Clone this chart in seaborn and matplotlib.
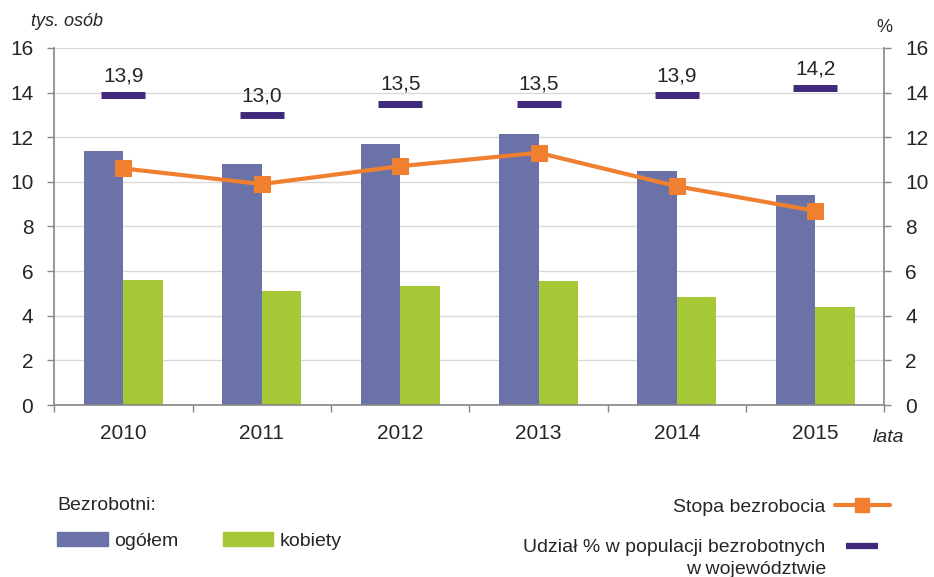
import matplotlib.pyplot as plt
import numpy as np
import pandas as pd
import seaborn as sns
from matplotlib.lines import Line2D
from matplotlib.patches import Patch

# dane
years = ["2010", "2011", "2012", "2013", "2014", "2015"]
ogolem = [11.4, 10.8, 11.7, 12.15, 10.5, 9.4]
kobiety = [5.6, 5.1, 5.35, 5.55, 4.85, 4.4]
stopa = [10.6, 9.9, 10.7, 11.3, 9.8, 8.7]
udzial = [13.9, 13.0, 13.5, 13.5, 13.9, 14.2]
y_ticks = [0, 2, 4, 6, 8, 10, 12, 14, 16]

BLUE = "#6A72A8"
GREEN = "#A6C736"
ORANGE = "#F08030"
PURPLE = "#40287A"
TEXT = "#262626"
SPINE = "#868686"

sns.set_theme(style="white")
plt.rcParams["font.family"] = ["Liberation Sans", "DejaVu Sans"]
plt.rcParams["text.color"] = TEXT

df_bars = pd.DataFrame({
    "rok": years * 2,
    "grupa": ["ogółem"] * len(years) + ["kobiety"] * len(years),
    "value": ogolem + kobiety,
})
pos = np.arange(len(years))

fig = plt.figure(figsize=(9.34, 5.77), dpi=100)
ax = fig.add_axes([0.058, 0.298, 0.889, 0.619])

sns.barplot(data=df_bars, x="rok", y="value", hue="grupa", palette=[BLUE, GREEN],
            width=0.57, gap=0, saturation=1, linewidth=0, legend=False, ax=ax, zorder=2)

ax.set_ylim(0, 16)
ax.set_yticks(y_ticks)
ax.yaxis.grid(True, color="#D9D9D9", lw=1)
ax.set_axisbelow(True)
ax.set_xlabel("")
ax.set_ylabel("")

ax2 = ax.twinx()
sns.lineplot(x=pos, y=stopa, ax=ax2, color=ORANGE, lw=3, marker="s", markersize=11,
             markeredgecolor=ORANGE, zorder=3)
sns.scatterplot(x=pos, y=udzial, ax=ax2, marker="_", s=1000, linewidth=5,
                color=PURPLE, zorder=3)
for x, v in zip(pos, udzial):
    ax2.annotate(f"{v:.1f}".replace(".", ","), (x, v), xytext=(0, 7),
                 textcoords="offset points", ha="center", va="bottom", fontsize=15)

ax2.set_ylim(0, 16)
ax2.set_yticks(y_ticks)
ax2.set_ylabel("")

ax.set_xlim(-0.5, len(years) - 0.5)
ax.set_xticks(np.arange(-0.5, len(years), 1), labels=[""] * (len(years) + 1))
ax.set_xticks(pos, labels=years, minor=True)
ax.tick_params(axis="x", which="major", direction="out", length=5, width=1, color=SPINE, bottom=True)
ax.tick_params(axis="x", which="minor", length=0, pad=14, labelsize=15)
ax.tick_params(axis="y", direction="out", length=5, width=1, color=SPINE, left=True, pad=10, labelsize=15)
ax2.tick_params(axis="y", direction="out", length=5, width=1, color=SPINE, right=True, pad=10, labelsize=15)

for s in ["top", "right"]:
    ax.spines[s].set_visible(False)
for s in ["top", "left", "bottom"]:
    ax2.spines[s].set_visible(False)
for a, s in [(ax, "left"), (ax, "bottom"), (ax2, "right")]:
    a.spines[s].set_color(SPINE)
    a.spines[s].set_linewidth(1.2)

fig.text(31 / 934, 1 - 22 / 577, "tys. osób", style="italic", fontsize=13, va="center")
fig.text(884 / 934, 1 - 27 / 577, "%", fontsize=13, va="center", ha="center")
fig.text(873 / 934, 1 - 437 / 577, "lata", style="italic", fontsize=14, va="center")

left_handles = [Patch(color=BLUE, label="ogółem"), Patch(color=GREEN, label="kobiety")]
fig.legend(handles=left_handles, loc="upper left", bbox_to_anchor=(57 / 934, 1 - 497 / 577),
           ncol=2, title="Bezrobotni:", alignment="left", frameon=False, fontsize=14,
           title_fontsize=14, handlelength=2.6, handleheight=0.67, handletextpad=0.36,
           columnspacing=2.25, labelspacing=0.95, borderpad=0, borderaxespad=0)

right_handles = [
    Line2D([], [], color=ORANGE, lw=3, marker="s", markersize=10, label="Stopa bezrobocia"),
    Line2D([], [], color=PURPLE, lw=0, marker="_", markersize=23, markeredgewidth=4.5,
           label="Udział % w populacji bezrobotnych"),
]
fig.legend(handles=right_handles, loc="upper right", bbox_to_anchor=(890 / 934, 1 - 498 / 577),
           markerfirst=False, frameon=False, fontsize=14, handlelength=2.85,
           handletextpad=0.46, labelspacing=1.19, borderpad=0, borderaxespad=0)
fig.text(826 / 934, 1 - 569 / 577, "w województwie", fontsize=14, ha="right", va="center")

fig.savefig("out.png", dpi=100)
